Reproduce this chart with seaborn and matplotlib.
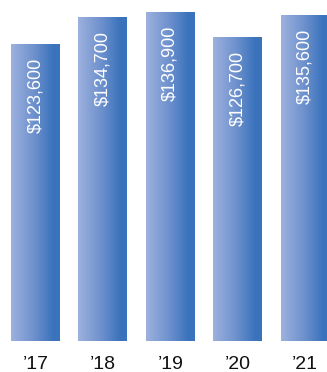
import numpy as np
import pandas as pd
import matplotlib
matplotlib.use("Agg")
import matplotlib.pyplot as plt
from matplotlib.colors import LinearSegmentedColormap
import seaborn as sns

years = ["’17", "’18", "’19", "’20", "’21"]
values = [123600, 134700, 136900, 126700, 135600]
labels = ["$123,600", "$134,700", "$136,900", "$126,700", "$135,600"]

sns.set_theme(style="white")
plt.rcParams["font.family"] = ["Liberation Sans", "DejaVu Sans"]

df = pd.DataFrame({"year": years, "value": values})

fig = plt.figure(figsize=(3.27, 3.72), dpi=100)
ax = fig.add_axes([0, 1 - 341 / 372, 1, 341 / 372])

sns.barplot(data=df, x="year", y="value", width=0.727, color="#3b74bd",
            ax=ax, saturation=1)

ax.set_xlim(-0.527, 4.326)
ax.set_ylim(0, 141900)

# horizontal light-to-dark gradient painted inside each bar
cmap = LinearSegmentedColormap.from_list(
    "barfade", [(0.0, "#9db1de"), (0.5, "#6b8fcc"), (0.85, "#3b74bd"), (1.0, "#3a72bb")])
grad = np.linspace(0, 1, 256).reshape(1, -1)
for patch in ax.patches:
    x0, y0 = patch.get_x(), patch.get_y()
    w, h = patch.get_width(), patch.get_height()
    patch.set_facecolor("none")
    patch.set_edgecolor("none")
    im = ax.imshow(grad, cmap=cmap, aspect="auto", extent=[x0, x0 + w, y0, y0 + h],
                   zorder=2, interpolation="bilinear")
    im.set_clip_path(patch)

# value labels running up inside the top of each bar
px_per_unit = 341 / 141900
for i, (v, lab) in enumerate(zip(values, labels)):
    ax.text(i, v - 14 / px_per_unit, lab, rotation=90, ha="center", va="top",
            color="white", fontsize=13, zorder=3)

ax.set_xlabel("")
ax.set_ylabel("")
ax.set_yticks([])
ax.tick_params(axis="x", length=0, pad=10.5, labelsize=14, labelcolor="#111111")
for s in ax.spines.values():
    s.set_visible(False)

fig.savefig("out.png", dpi=100)
